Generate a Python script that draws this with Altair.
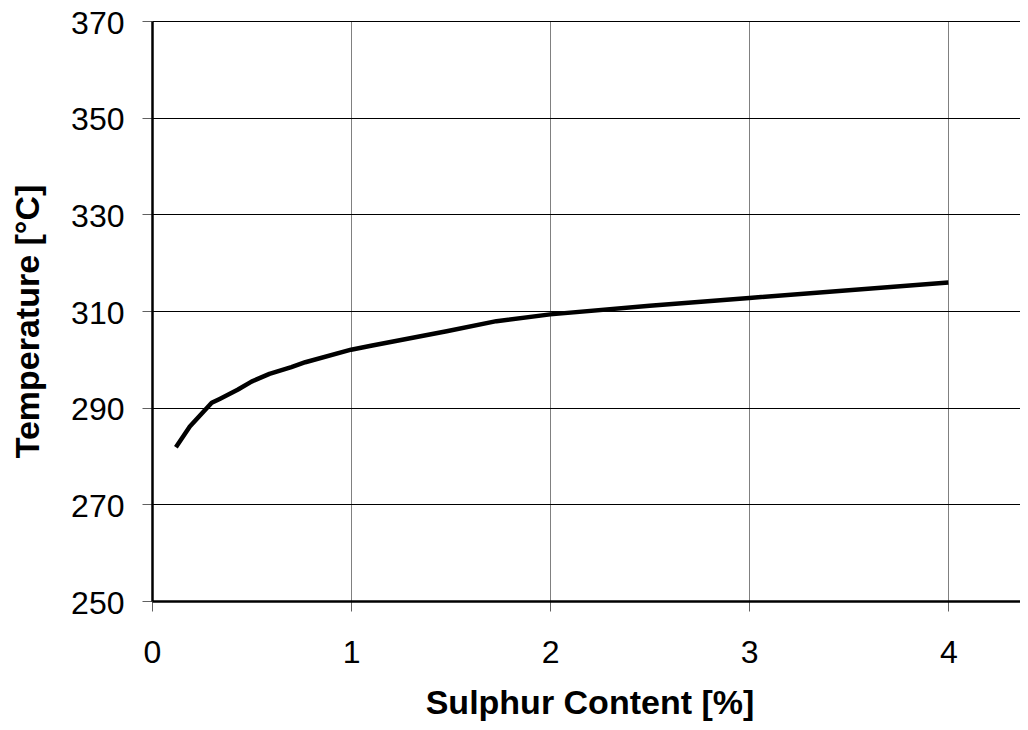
import altair as alt
import pandas as pd

sulphur = [0.12, 0.19, 0.30, 0.34, 0.43, 0.50, 0.59, 0.70, 0.77, 1.00, 1.10,
           1.48, 1.73, 2.00, 2.50, 3.00, 4.00]
temperature = [281.8, 286.1, 291.0, 291.8, 293.7, 295.4, 297.0, 298.4, 299.4,
               302.0, 302.8, 305.8, 307.9, 309.3, 311.1, 312.7, 315.9]
x_ticks = [0, 1, 2, 3, 4]
y_ticks = [250, 270, 290, 310, 330, 350, 370]

df = pd.DataFrame({"s": sulphur, "t": temperature})
FONT = "Liberation Sans"

line = alt.Chart(df).mark_line(color="black", strokeWidth=4.5, strokeJoin="round").encode(
    x=alt.X("s:Q",
            scale=alt.Scale(domain=[0, 4.36], nice=False, zero=False),
            axis=alt.Axis(values=x_ticks, title="Sulphur Content [%]",
                          grid=True, gridColor="#808080", gridWidth=1,
                          domainColor="black", domainWidth=2.5,
                          tickColor="#606060", tickSize=10, tickWidth=1,
                          labelFont=FONT, labelFontSize=32, labelColor="black",
                          labelPadding=26, labelFlush=False,
                          titleFont=FONT, titleFontSize=34, titleFontWeight="bold",
                          titleColor="black", titleBaseline="alphabetic",
                          titleY=112, titleX=437.5)),
    y=alt.Y("t:Q",
            scale=alt.Scale(domain=[250, 370], nice=False, zero=False),
            axis=alt.Axis(values=y_ticks, title="Temperature [°C]",
                          grid=True, gridColor="black", gridWidth=1,
                          domainColor="black", domainWidth=2.5,
                          tickColor="#606060", tickSize=10, tickWidth=1,
                          labelFont=FONT, labelFontSize=32, labelColor="black",
                          labelPadding=18, labelFlush=False, labelOffset=2,
                          titleFont=FONT, titleFontSize=34, titleFontWeight="bold",
                          titleColor="black", titleAngle=270,
                          titleBaseline="middle", titleAlign="center",
                          titleX=-124, titleY=300)),
)

chart = line.properties(
    width=868, height=580,
    autosize=alt.AutoSizeParams(type="none"),
    padding={"left": 144, "top": 13, "right": 0, "bottom": 121},
    background="white",
).configure_view(stroke=None)

chart.save("out.html", embed_options={"renderer": "svg", "actions": False})
